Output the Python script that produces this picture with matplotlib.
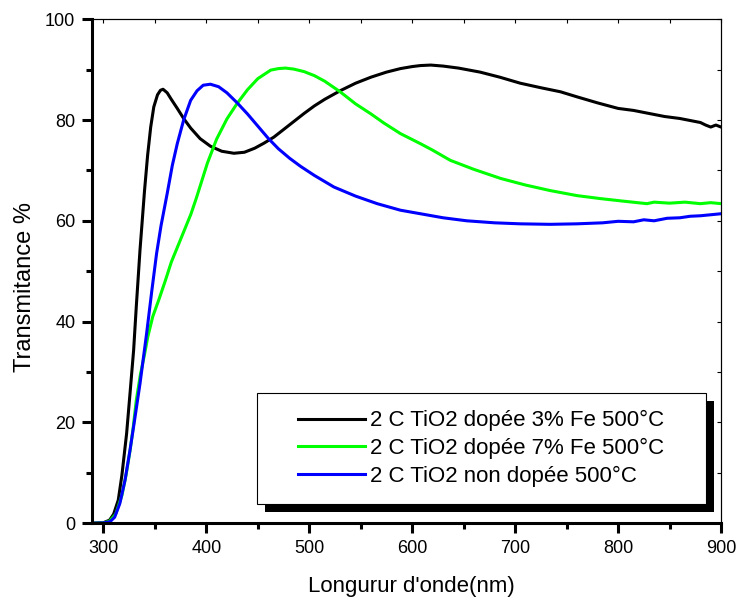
import matplotlib
matplotlib.use("Agg")
import matplotlib.pyplot as plt
from matplotlib.patches import Rectangle

plt.rcParams['font.family'] = ['Liberation Sans', 'DejaVu Sans']

# 2 C TiO2 dopée 3% Fe 500°C
wl_fe3 = [290, 300, 306, 310, 314.5, 318, 322.6, 326, 329.4, 332, 335.6, 340, 343, 346, 349,
          352.6, 355.5, 358, 362, 366, 371.8, 378, 384.8, 394, 404, 415, 426.8, 437, 447,
          456, 465.6, 475, 485, 495, 505, 515, 530, 545, 560, 575, 588.6, 600, 608, 618,
          630, 645, 666, 685, 705, 725, 744, 760, 780, 800, 815, 830, 845, 860, 870, 880,
          885, 890, 895, 900]
t_fe3 = [0, 0.1, 0.6, 1.8, 4.6, 9.5, 17.8, 26, 34.3, 43, 54.2, 66, 73, 78.6, 82.6,
         85.0, 85.9, 86.1, 85.4, 84.1, 82.3, 80.3, 78.4, 76.3, 74.8, 73.8, 73.4, 73.6, 74.4,
         75.4, 76.6, 78.1, 79.7, 81.3, 82.8, 84.1, 85.8, 87.3, 88.5, 89.5, 90.2, 90.6, 90.8, 90.9,
         90.7, 90.3, 89.5, 88.5, 87.3, 86.4, 85.6, 84.6, 83.4, 82.3, 81.9, 81.3, 80.7, 80.3, 79.9, 79.5,
         79.0, 78.6, 79.0, 78.6]

# 2 C TiO2 dopée 7% Fe 500°C
wl_fe7 = [290, 300, 306, 312, 318, 322, 326, 329, 332, 336, 340, 343.2, 348, 354, 360,
          366, 372, 378, 385, 390, 394.5, 401, 410, 420, 430, 440, 450, 462.6, 470, 477, 485,
          495, 505, 515, 530, 545, 560, 572.5, 588.6, 608, 620, 637, 660, 686, 710, 734,
          760, 783, 805, 828, 835, 850, 865, 880, 890, 900]
t_fe7 = [0, 0.05, 0.4, 1.8, 5.5, 9.5, 14.5, 19, 24.4, 29.5, 33.5, 37, 41, 44.4, 48,
         51.8, 54.8, 57.8, 61.3, 64.3, 67.2, 71.4, 76.2, 80.2, 83.3, 86, 88.2, 89.9, 90.2, 90.3, 90.1,
         89.6, 88.8, 87.7, 85.6, 83.2, 81.2, 79.4, 77.3, 75.3, 74, 72, 70.2, 68.4, 67.1, 66,
         65, 64.4, 63.9, 63.4, 63.7, 63.5, 63.7, 63.4, 63.6, 63.4]

# 2 C TiO2 non dopée 500°C
wl_nd = [290, 300, 306.5, 311, 316, 321, 325.9, 330, 335.6, 342, 347, 351.7, 356, 362,
         367, 371.8, 378, 384.8, 391, 397, 404, 412, 420, 430, 440, 450, 460, 470, 481,
         491.6, 505, 524, 545, 566, 588.6, 608, 630, 653, 680, 705, 734, 760, 785, 800,
         815, 825, 835, 847.6, 860, 870, 880, 890, 900]
t_nd = [0, 0.05, 0.3, 1.2, 3.9, 8.5, 14.5, 20, 27.7, 37.6, 46, 53.5, 59, 65.4,
        71, 75.3, 80, 83.9, 85.8, 86.9, 87.1, 86.6, 85.4, 83.4, 81.2, 78.8, 76.4, 74.3, 72.4,
        70.8, 69.0, 66.7, 64.9, 63.4, 62.1, 61.4, 60.6, 60.0, 59.6, 59.4, 59.3, 59.4, 59.6, 59.9,
        59.8, 60.2, 60.0, 60.5, 60.6, 60.9, 61.0, 61.2, 61.4]

labels = ['2 C TiO2 dopée 3% Fe 500°C', '2 C TiO2 dopée 7% Fe 500°C', '2 C TiO2 non dopée 500°C']
colors = ['black', '#00ff00', '#0000ff']

fig = plt.figure(figsize=(7.38, 6), dpi=100)
ax = fig.add_axes([0.1247, 0.128, 0.8523, 0.84])

ax.plot(wl_fe3, t_fe3, color=colors[0], lw=2.2, label=labels[0])
ax.plot(wl_fe7, t_fe7, color=colors[1], lw=2.2, label=labels[1])
ax.plot(wl_nd, t_nd, color=colors[2], lw=2.2, label=labels[2])

ax.set_xlim(289, 900)
ax.set_ylim(0, 100)
ax.set_xticks([300, 400, 500, 600, 700, 800, 900])
ax.set_xticks([350, 450, 550, 650, 750, 850], minor=True)
ax.set_yticks([0, 20, 40, 60, 80, 100])
ax.set_yticks([10, 30, 50, 70, 90], minor=True)

ax.spines['left'].set_linewidth(2.2)
ax.spines['bottom'].set_linewidth(2.2)
ax.spines['top'].set_linewidth(0.8)
ax.spines['right'].set_linewidth(0.8)

ax.tick_params(which='major', direction='out', length=7, width=2.2, labelsize=13, pad=5,
               top=False, right=False)
ax.tick_params(which='minor', direction='out', length=4, width=2.2, top=False, right=False)

# small inward ticks on top and right
sec_x = ax.secondary_xaxis('top')
sec_x.set_xticks([300, 350, 400, 450, 500, 550, 600, 650, 700, 750, 800, 850, 900])
sec_x.tick_params(direction='in', length=3, width=0.8, labeltop=False)
sec_x.spines['top'].set_linewidth(0.8)
sec_y = ax.secondary_yaxis('right')
sec_y.set_yticks([0, 10, 20, 30, 40, 50, 60, 70, 80, 90, 100])
sec_y.tick_params(direction='in', length=3, width=0.8, labelright=False)
sec_y.spines['right'].set_linewidth(0.8)

ax.set_xlabel("Longurur d'onde(nm)", fontsize=16)
ax.set_ylabel('Transmitance %', fontsize=17)
ax.xaxis.set_label_coords(0.507, -0.105)
ax.yaxis.set_label_coords(-0.089, 0.468)

# legend box with black drop shadow
ax.add_patch(Rectangle((0.275, 0.0224), 0.714, 0.2196, transform=ax.transAxes,
                       facecolor='black', edgecolor='none', zorder=5, clip_on=False))
ax.add_patch(Rectangle((0.262, 0.0377), 0.714, 0.2203, transform=ax.transAxes,
                       facecolor='white', edgecolor='black', lw=0.8, zorder=6, clip_on=False))
leg = ax.legend(loc='center', bbox_to_anchor=(0.619, 0.148), frameon=False, fontsize=16,
                handlelength=3.0, handletextpad=0.25, labelspacing=0.3)
leg.set_zorder(7)

fig.savefig('out.png', dpi=100)
